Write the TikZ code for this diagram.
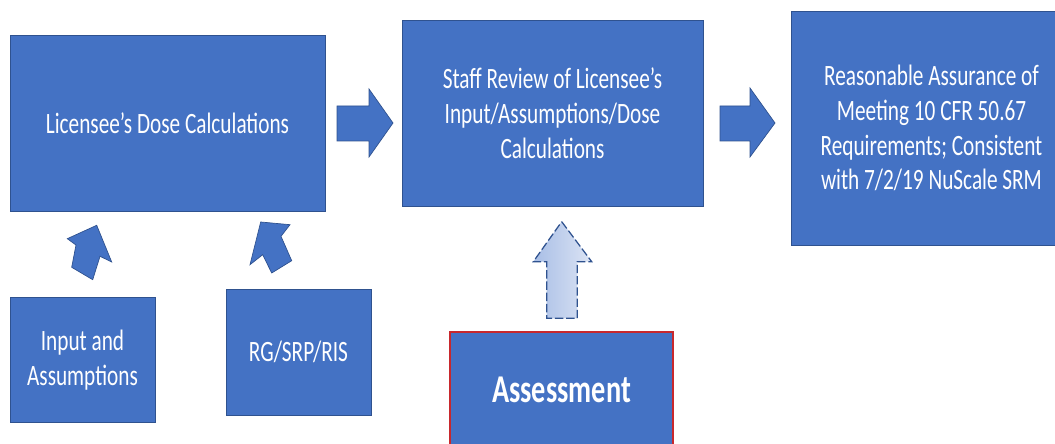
\documentclass[tikz,border=0pt]{standalone}
\usepackage{fontspec}
\setmainfont{Carlito}[FakeStretch=0.72]
\definecolor{boxblue}{HTML}{4472C4}
\definecolor{edgeblue}{HTML}{2F528F}
\definecolor{paleblue}{HTML}{A8BEE6}
\definecolor{paleblueB}{HTML}{DCE4F4}
\definecolor{edgered}{HTML}{C8282D}

\begin{document}
\begin{tikzpicture}[x=0.025cm,y=-0.025cm,
		box/.style={rectangle,fill=boxblue,draw=edgeblue,line width=.6pt,text=white,align=center,
			inner sep=0pt,font=\fontsize{21}{24.8}\selectfont},
		blockarrow/.style={fill=boxblue,draw=edgeblue,line width=.5pt,line join=miter}]
				\useasboundingbox (0,0) rectangle (1055,444);

				% top row
				\node[box,minimum width=7.875cm,minimum height=4.4cm] (dose) at (167.5,123) {Licensee’s Dose Calculations};
				\node[box,minimum width=7.525cm,minimum height=4.65cm] (review) at (552.5,113)
					{Staff Review of Licensee’s\\Input/Assumptions/Dose\\Calculations};
				\node[box,minimum width=7.025cm,minimum height=5.85cm] (assurance) at (931.5,128)
					{Reasonable Assurance of\\Meeting 10 CFR 50.67\\Requirements; Consistent\\with 7/2/19 NuScale SRM};

				% bottom row
				\node[box,minimum width=3.625cm,minimum height=3.125cm] (input) at (82.5,360) {Input and\\Assumptions};
				\node[box,minimum width=3.625cm,minimum height=3.15cm] (rg) at (298.5,352) {RG/SRP/RIS};
				\node[box,draw=edgered,line width=.8pt,minimum width=5.575cm,minimum height=2.9cm,
					font=\bfseries\fontsize{28}{32}\selectfont] (assess) at (561.5,390) {Assessment};

				% block arrows
				\draw[blockarrow] (337,106) -- (369,106) -- (369,89) -- (393,123) -- (369,157) -- (369,141) -- (337,141) -- cycle;
				\draw[blockarrow] (720,106) -- (750,106) -- (750,88) -- (775,123) -- (750,157) -- (750,141) -- (720,141) -- cycle;
				\draw[blockarrow] (96.7,225.3) -- (111.7,262) -- (100,256.3) -- (92.7,279.7) -- (71.7,267.3) -- (76,245) -- (67.3,238.7) -- cycle;
				\draw[blockarrow] (260.7,222) -- (290,224.7) -- (281,236.3) -- (291.7,260.7) -- (271.7,273) -- (262.7,254.7) -- (250,264.7) -- cycle;
				\draw[draw=edgeblue,line width=.9pt,dash pattern=on 6pt off 2pt,left color=paleblue,right color=paleblueB]
					(561.7,221.7) -- (591.7,261.7) -- (577.3,261.7) -- (577.3,318.3) -- (546.7,318.3) -- (546.7,261.7) -- (533.3,261.7) -- cycle;
			\end{tikzpicture}
\end{document}
